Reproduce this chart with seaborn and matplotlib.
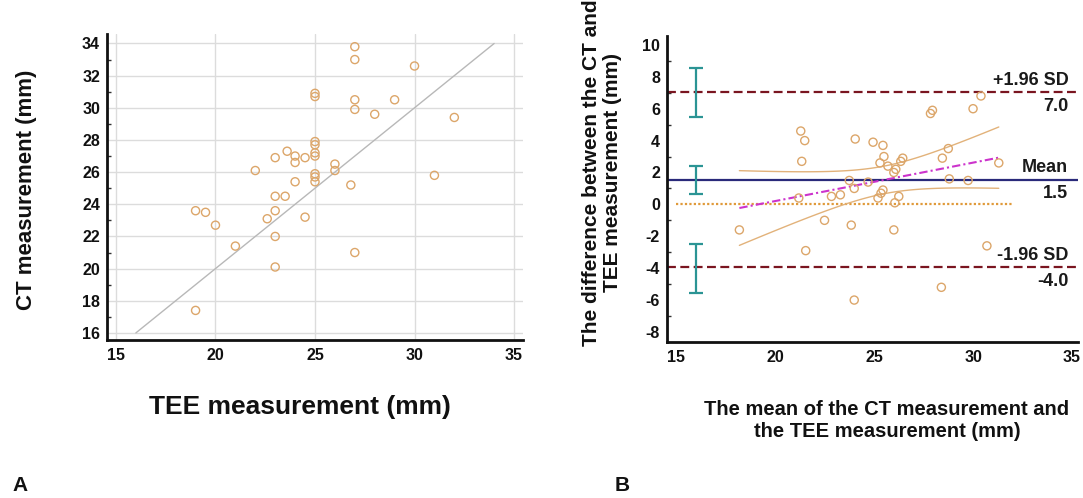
import numpy as np
import pandas as pd
import matplotlib
matplotlib.use("Agg")
import matplotlib.pyplot as plt
import matplotlib.transforms as mtransforms
from matplotlib.ticker import MultipleLocator
import seaborn as sns

# ---------------- data ----------------
tee = [19, 19, 19.5, 20, 21, 22, 22.6, 23, 23, 23, 23, 23, 23.5, 23.6, 24, 24, 24,
       24.5, 24.5, 25, 25, 25, 25, 25, 25, 25, 25, 25, 26, 26, 26.8, 27, 27, 27, 27,
       27, 28, 29, 30, 31, 32]
ct = [17.4, 23.6, 23.5, 22.7, 21.4, 26.1, 23.1, 26.9, 24.5, 23.6, 22.0, 20.1, 24.5,
      27.3, 27.0, 26.6, 25.4, 26.9, 23.2, 30.9, 30.7, 27.9, 27.7, 27.2, 27.0, 25.9,
      25.7, 25.4, 26.5, 26.1, 25.2, 33.8, 33.0, 30.5, 29.9, 21.0, 29.6, 30.5, 32.6,
      25.8, 29.4]

identity_range = [16, 34]
zero_line_x = [15, 32]

ci_x = 16
upper_ci = [5.5, 8.58]
mean_ci = [0.65, 2.42]
lower_ci = [-5.55, -2.48]

left_xticks = [15, 20, 25, 30, 35]
left_yticks = [16, 18, 20, 22, 24, 26, 28, 30, 32, 34]
right_xticks = [15, 20, 25, 30, 35]
right_yticks = [-8, -6, -4, -2, 0, 2, 4, 6, 8, 10]

# ---------------- derived (Bland-Altman) ----------------
df = pd.DataFrame({"tee": tee, "ct": ct})
df["mean"] = (df["ct"] + df["tee"]) / 2
df["diff"] = df["ct"] - df["tee"]
md = df["diff"].mean()
sd = df["diff"].std()
upper = md + 1.96 * sd
lower = md - 1.96 * sd

n = len(df)
slope, intercept = np.polyfit(df["mean"], df["diff"], 1)
xs = np.linspace(df["mean"].min(), df["mean"].max(), 100)
fit = intercept + slope * xs
resid = df["diff"] - (intercept + slope * df["mean"])
s_res = np.sqrt((resid ** 2).sum() / (n - 2))
xbar = df["mean"].mean()
sxx = ((df["mean"] - xbar) ** 2).sum()
hw = 2.021 * s_res * np.sqrt(1 / n + (xs - xbar) ** 2 / sxx)

# ---------------- style ----------------
sns.set_theme(style="white")
plt.rcParams["font.family"] = ["Liberation Sans", "DejaVu Sans"]
plt.rcParams["font.weight"] = "bold"
plt.rcParams["axes.unicode_minus"] = False

W, H = 1083, 498
fig = plt.figure(figsize=(W / 100, H / 100), dpi=100)

def fbox(x0, y0, x1, y1):
    return [x0 / W, 1 - y1 / H, (x1 - x0) / W, (y1 - y0) / H]

pt_color = "#dca66a"

# ---------------- left panel ----------------
ax1 = fig.add_axes(fbox(107, 34, 523, 340))
ax1.set_xlim(14.55, 35.45)
ax1.set_ylim(15.56, 34.59)
ax1.set_xticks(left_xticks)
ax1.set_yticks(left_yticks)
ax1.yaxis.set_minor_locator(MultipleLocator(1))
ax1.grid(True, which="major", color="#dcdcdc", linewidth=1)
ax1.set_axisbelow(True)
sns.lineplot(x=identity_range, y=identity_range, ax=ax1, color="#b8b8b8",
             linewidth=1, zorder=2)
sns.scatterplot(data=df, x="tee", y="ct", ax=ax1, marker="o", s=34,
                facecolors="none", edgecolor=pt_color, linewidth=1, zorder=3)
ax1.set_xlabel("")
ax1.set_ylabel("")

# ---------------- right panel ----------------
ax2 = fig.add_axes(fbox(667, 36, 1078, 342))
ax2.set_xlim(14.545, 35.3)
ax2.set_ylim(-8.63, 10.56)
ax2.set_xticks(right_xticks)
ax2.set_yticks(right_yticks)
ax2.yaxis.set_minor_locator(MultipleLocator(1))
ax2.grid(False)

ax2.axhline(upper, color="#7a1520", linestyle=(0, (4, 2)), linewidth=1.6, zorder=2)
ax2.axhline(lower, color="#7a1520", linestyle=(0, (4, 2)), linewidth=1.6, zorder=2)
ax2.axhline(md, color="#2a2a7a", linewidth=1.6, zorder=2)
sns.lineplot(x=zero_line_x, y=[0, 0], ax=ax2, color="#e09a3a",
             linestyle=(0, (1, 1)), linewidth=1.6, zorder=2)
sns.lineplot(x=xs, y=fit, ax=ax2, color="#cc33cc", linestyle=(0, (4, 1.5, 1, 1.5)),
             linewidth=1.5, zorder=3)
sns.lineplot(x=xs, y=fit + hw, ax=ax2, color="#e2b27a", linewidth=1, zorder=3)
sns.lineplot(x=xs, y=fit - hw, ax=ax2, color="#e2b27a", linewidth=1, zorder=3)
sns.scatterplot(data=df, x="mean", y="diff", ax=ax2, marker="o", s=34,
                facecolors="none", edgecolor=pt_color, linewidth=1, zorder=4)

teal = "#2b9494"
for lo, hi in [upper_ci, mean_ci, lower_ci]:
    ax2.errorbar([ci_x], [(lo + hi) / 2], yerr=[[(hi - lo) / 2], [(hi - lo) / 2]],
                 fmt="none", ecolor=teal, elinewidth=1.6, capsize=5, capthick=1.6,
                 zorder=5)
ax2.set_xlabel("")
ax2.set_ylabel("")

trans = mtransforms.blended_transform_factory(ax2.transAxes, ax2.transData)
for val, top, bot in [(upper, "+1.96 SD", f"{upper:.1f}"),
                      (md, "Mean", f"{md:.1f}"),
                      (lower, "-1.96 SD", f"{lower:.1f}")]:
    ax2.annotate(top, xy=(1, val), xycoords=trans, xytext=(-7, 8.6),
                 textcoords="offset points", ha="right", va="center",
                 fontsize=13, fontweight="bold", color="#1a1a1a")
    ax2.annotate(bot, xy=(1, val), xycoords=trans, xytext=(-7, -10),
                 textcoords="offset points", ha="right", va="center",
                 fontsize=13, fontweight="bold", color="#1a1a1a")

# ---------------- common axis styling ----------------
for ax in (ax1, ax2):
    for side in ("top", "right"):
        ax.spines[side].set_visible(False)
    for side in ("left", "bottom"):
        ax.spines[side].set_color("#111111")
        ax.spines[side].set_linewidth(2)
    ax.tick_params(which="major", direction="in", length=6, width=1,
                   color="#333333", labelsize=11.5, labelcolor="#111111")
    ax.tick_params(which="minor", direction="in", length=3, width=1,
                   color="#333333", left=True)
    ax.tick_params(axis="x", pad=6)
    ax.tick_params(axis="y", pad=5)
    for lab in ax.get_xticklabels() + ax.get_yticklabels():
        lab.set_fontweight("bold")

# ---------------- labels ----------------
fig.text(300 / W, 1 - 407 / H, "TEE measurement (mm)", ha="center", va="center",
         fontsize=19, fontweight="bold", color="#111111")
fig.text(27 / W, 1 - 190 / H, "CT measurement (mm)", ha="center", va="center",
         rotation=90, fontsize=16, fontweight="bold", color="#111111")
fig.text(887 / W, 1 - 420 / H, "The mean of the CT measurement and\nthe TEE measurement (mm)",
         ha="center", va="center", fontsize=14.5, fontweight="bold", color="#111111",
         linespacing=1.2)
fig.text(602 / W, 1 - 173 / H, "The difference between the CT and\nTEE measurement (mm)",
         ha="center", va="center", rotation=90, fontsize=15, fontweight="bold",
         color="#111111", linespacing=1.15)
fig.text(20 / W, 1 - 485 / H, "A", ha="center", va="center", fontsize=15,
         fontweight="bold", color="#111111")
fig.text(622 / W, 1 - 485 / H, "B", ha="center", va="center", fontsize=15,
         fontweight="bold", color="#111111")

fig.savefig("out.png", dpi=100)
